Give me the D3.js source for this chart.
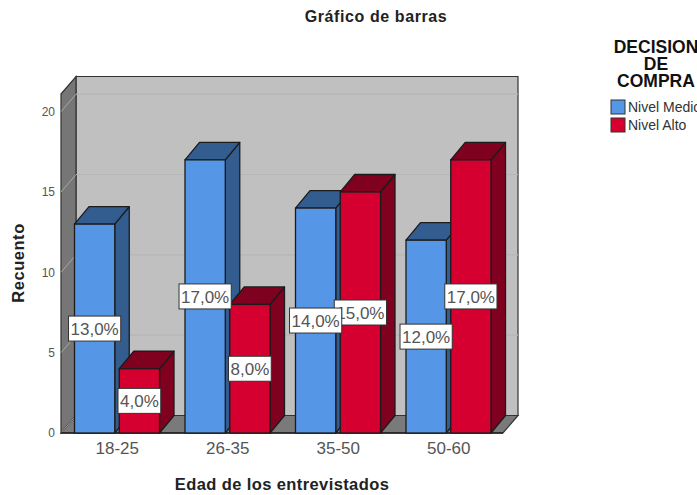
<!DOCTYPE html>
<html>
<head>
<meta charset="utf-8">
<script src="https://cdn.jsdelivr.net/npm/d3@7"></script>
<style>
  html, body { margin: 0; padding: 0; background: #fff; overflow: hidden; }
  svg { display: block; font-family: "Liberation Sans", Arial, sans-serif; }
</style>
</head>
<body>
<div id="chart"></div>
<script>
const categories = ['18-25', '26-35', '35-50', '50-60'];
const seriesNames = ['Nivel Medio', 'Nivel Alto'];
const medioValues = [13, 17, 14, 12];
const altoValues = [4, 8, 15, 17];
const yTicks = [0, 5, 10, 15, 20];
const yMax = 21.1;

const width = 697;
const height = 495;
const depthX = 15;
const depthY = 17.5;
const frontColors = ['#5596e6', '#d60030'];
const sideColors = ['#335c8f', '#800020'];
const edge = '#1c1c1c';

const svg = d3.select('#chart').append('svg')
    .attr('width', width)
    .attr('height', height);

const x0 = d3.scaleBand().domain(categories).range([61, 503]);
const x1 = d3.scaleBand().domain(seriesNames).range([13.5, 98.5]).paddingInner(0.1);
const y = d3.scaleLinear().domain([0, yMax]).range([433, 94]);

const poly = pts => pts.map(p => p.join(',')).join(' ');
const xL = x0.range()[0], xR = x0.range()[1];
const yB = y(0), yT = y(yMax);

// Walls and floor
svg.append('polygon')
    .attr('points', poly([[xL + depthX, yT - depthY], [xR + depthX, yT - depthY], [xR + depthX, yB - depthY], [xL + depthX, yB - depthY]]))
    .attr('fill', '#c0c0c0').attr('stroke', '#333').attr('stroke-width', 1.2);
svg.append('polygon')
    .attr('points', poly([[xL, yT], [xL + depthX, yT - depthY], [xL + depthX, yB - depthY], [xL, yB]]))
    .attr('fill', '#767676').attr('stroke', '#333').attr('stroke-width', 1.2);
svg.append('polygon')
    .attr('points', poly([[xL, yB], [xL + depthX, yB - depthY], [xR + depthX, yB - depthY], [xR, yB]]))
    .attr('fill', '#7a7a7a').attr('stroke', '#333').attr('stroke-width', 1.2);

// Gridlines
yTicks.filter(t => t > 0).forEach(t => {
  svg.append('line')
      .attr('x1', xL + depthX).attr('x2', xR + depthX)
      .attr('y1', y(t) - depthY).attr('y2', y(t) - depthY)
      .attr('stroke', '#b6b6b6').attr('stroke-width', 1.2);
});
yTicks.forEach(t => {
  svg.append('line')
      .attr('x1', xL).attr('x2', xL + depthX)
      .attr('y1', y(t)).attr('y2', y(t) - depthY)
      .attr('stroke', '#a8a8a8').attr('stroke-width', 1);
});

// Axes
const yAxis = svg.append('g')
    .attr('transform', `translate(${xL},0)`)
    .call(d3.axisLeft(y).tickValues(yTicks).tickSize(0).tickPadding(6));
yAxis.select('.domain').remove();
yAxis.selectAll('text').attr('font-size', 12).attr('fill', '#555').attr('font-family', null);

const xAxis = svg.append('g')
    .attr('transform', `translate(1,${yB})`)
    .call(d3.axisBottom(x0).tickSize(0).tickPadding(9));
xAxis.select('.domain').remove();
xAxis.selectAll('text').attr('font-size', 17).attr('fill', '#555').attr('font-family', null);

svg.append('line')
    .attr('x1', xL).attr('x2', xR).attr('y1', yB).attr('y2', yB)
    .attr('stroke', edge).attr('stroke-width', 1.4);

// Bars
const rows = categories.map((c, i) => ({
  category: c,
  bars: [
    { name: seriesNames[0], value: medioValues[i], s: 0 },
    { name: seriesNames[1], value: altoValues[i], s: 1 }
  ]
}));

const groups = svg.selectAll('.group')
    .data(rows)
    .join('g')
    .attr('class', 'group')
    .attr('transform', d => `translate(${x0(d.category)},0)`);

const bars = groups.selectAll('.bar')
    .data(d => d.bars)
    .join('g')
    .attr('class', 'bar');

const barW = x1.bandwidth();
const barDX = 14.5;
const barDY = 17.5;

bars.append('polygon')
    .attr('points', d => {
      const l = x1(d.name), r = l + barW, t = y(d.value);
      return poly([[r, t], [r + barDX, t - barDY], [r + barDX, yB - barDY], [r, yB]]);
    })
    .attr('fill', d => sideColors[d.s]).attr('stroke', edge).attr('stroke-width', 1.3).attr('stroke-linejoin', 'round');
bars.append('polygon')
    .attr('points', d => {
      const l = x1(d.name), r = l + barW, t = y(d.value);
      return poly([[l, t], [l + barDX, t - barDY], [r + barDX, t - barDY], [r, t]]);
    })
    .attr('fill', d => sideColors[d.s]).attr('stroke', edge).attr('stroke-width', 1.3).attr('stroke-linejoin', 'round');
bars.append('rect')
    .attr('x', d => x1(d.name))
    .attr('y', d => y(d.value))
    .attr('width', barW)
    .attr('height', d => yB - y(d.value))
    .attr('fill', d => frontColors[d.s]).attr('stroke', edge).attr('stroke-width', 1.3);

// Percent labels, red ones first because the blue boxes sit on top
[1, 0].forEach(s => {
  rows.forEach(row => {
    const d = row.bars[s];
    const cx = x0(row.category) + x1(d.name) + barW / 2;
    const cy = y(d.value / 2);
    const label = d3.format('.1f')(d.value).replace('.', ',') + '%';
    const g = svg.append('g').attr('transform', `translate(${cx},${cy})`);
    const text = g.append('text')
        .attr('text-anchor', 'middle')
        .attr('dy', '0.36em')
        .attr('font-size', 17)
        .attr('fill', '#555')
        .text(label);
    const w = text.node().getComputedTextLength() + 4;
    g.insert('rect', 'text')
        .attr('x', -w / 2).attr('y', -12.5)
        .attr('width', w).attr('height', 25)
        .attr('fill', '#fff').attr('stroke', '#333').attr('stroke-width', 1);
  });
});

// Titles
svg.append('text')
    .attr('x', 376).attr('y', 22)
    .attr('text-anchor', 'middle')
    .attr('font-size', 16).attr('letter-spacing', 0.6).attr('font-weight', 'bold').attr('fill', '#222')
    .text('Gráfico de barras');

svg.append('text')
    .attr('x', 282).attr('y', 490)
    .attr('text-anchor', 'middle')
    .attr('font-size', 16.5).attr('letter-spacing', 0.4).attr('font-weight', 'bold').attr('fill', '#222')
    .text('Edad de los entrevistados');

svg.append('text')
    .attr('transform', 'translate(24,263) rotate(-90)')
    .attr('text-anchor', 'middle')
    .attr('font-size', 16.5).attr('letter-spacing', 0.55).attr('font-weight', 'bold').attr('fill', '#222')
    .text('Recuento');

// Legend
['DECISION', 'DE', 'COMPRA'].forEach((t, i) => {
  svg.append('text')
      .attr('x', 656).attr('y', 53 + i * 17)
      .attr('text-anchor', 'middle')
      .attr('font-size', 17.5).attr('font-weight', 'bold').attr('fill', '#111')
      .text(t);
});

const legend = svg.selectAll('.legend')
    .data(seriesNames)
    .join('g')
    .attr('class', 'legend')
    .attr('transform', (d, i) => `translate(611,${100 + i * 18})`);
legend.append('rect')
    .attr('width', 14).attr('height', 14)
    .attr('fill', (d, i) => frontColors[i]).attr('stroke', '#333').attr('stroke-width', 1);
legend.append('text')
    .attr('x', 17).attr('y', 12)
    .attr('font-size', 14).attr('fill', '#333')
    .text(d => d);
</script>
</body>
</html>
